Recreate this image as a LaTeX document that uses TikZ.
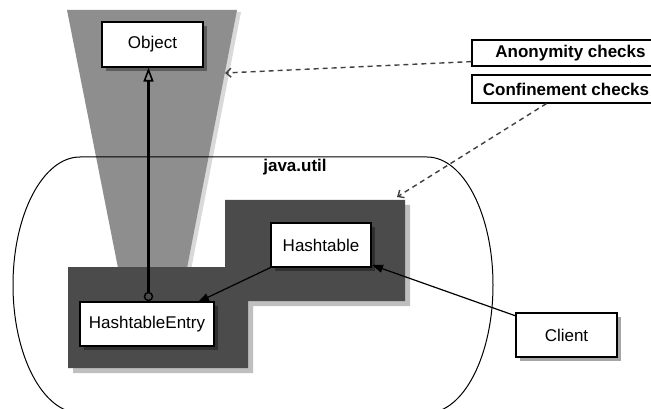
\documentclass[tikz,border=0pt]{standalone}
\usepackage{fontspec}
\setmainfont{Liberation Sans}
\usetikzlibrary{arrows.meta,shadows,calc}
\definecolor{lightg}{HTML}{8E8E8E}
\definecolor{darkg}{HTML}{4B4B4B}
\begin{document}
\begin{tikzpicture}[x=1pt,y=-1pt,
  txt/.style={font=\fontsize{17}{20}\selectfont},
  box/.style={draw=black, line width=1.2pt, fill=white, inner sep=0pt, txt,
    drop shadow={shadow xshift=4pt, shadow yshift=-4pt, opacity=0.35, fill=black}},
  checkbox/.style={draw=black, line width=1.2pt, fill=white, inner sep=0pt,
    font=\fontsize{17}{20}\selectfont\bfseries},
  checkarrow/.style={draw=black!75, line width=1.4pt, dash pattern=on 5pt off 4pt, -{Straight Barb[length=5pt,width=9pt]}},
  solidarrow/.style={line width=1.2pt, -{Triangle[length=11pt,width=8pt]}}]
\clip (0,0) rectangle (651,409);
\fill[white] (0,0) rectangle (651,409);
% light gray cone
\path[fill=lightg, drop shadow={shadow xshift=4pt, shadow yshift=-2pt, opacity=0.15, fill=black}]
  (67,10) -- (237,10) -- (184.7,280) -- (120.4,280) -- cycle;
% java.util outline
\draw[line width=1pt] (80,157) -- (427,157) arc[start angle=-90, end angle=90, x radius=66, y radius=128]
  -- (80,413) arc[start angle=90, end angle=270, x radius=67, y radius=128] -- cycle;
\node[txt, font=\fontsize{17}{20}\selectfont\bfseries] (jutil) at (295,167) {java.util};
% dark confinement region
\path[fill=darkg, drop shadow={shadow xshift=5pt, shadow yshift=-5pt, opacity=0.25, fill=black}]
  (68,267) -- (225,267) -- (225,200) -- (405,200) -- (405,301) -- (248,301) -- (248,368) -- (68,368) -- cycle;
% boxes
\node[box, minimum width=101pt, minimum height=45pt] (obj) at (152.5,44.5) {Object};
\node[box, minimum width=134pt, minimum height=44pt] (he) at (147,324) {HashtableEntry};
\node[box, minimum width=100pt, minimum height=44pt] (ht) at (321,245) {Hashtable};
\node[box, minimum width=101pt, minimum height=44pt] (client) at (566.5,335) {Client};
\node[checkbox, minimum width=197pt, minimum height=26pt] (anon) at (570.5,53) {Anonymity checks};
\node[checkbox, minimum width=188pt, minimum height=28pt] (conf) at (566,89) {Confinement checks};
% inheritance arrow with circle
\node[draw=black, line width=1.4pt, circle, minimum size=8pt, inner sep=0pt] (circ) at (148.5,296.5) {};
\draw[line width=2.2pt, -{Triangle[open, length=14pt, width=10pt, line width=1.6pt]}] (circ.north) -- (circ.north |- obj.south);
% associations
\coordinate (heTip) at (198,302);
\draw[solidarrow] (ht.south west) -- (heTip);
\coordinate (clStart) at (516,316);
\coordinate (htTip) at (372,265);
\draw[solidarrow] (clStart) -- (htTip);
% dashed check arrows
\coordinate (anonStart) at ($(anon.south west)+(0,-5)$);
\coordinate (anonTip) at (225,73);
\draw[checkarrow] (anonStart) -- (anonTip);
\coordinate (confStart) at ($(conf.south west)+(75,0)$);
\coordinate (confTip) at (397,197);
\draw[checkarrow] (confStart) -- (confTip);
\end{tikzpicture}
\end{document}
